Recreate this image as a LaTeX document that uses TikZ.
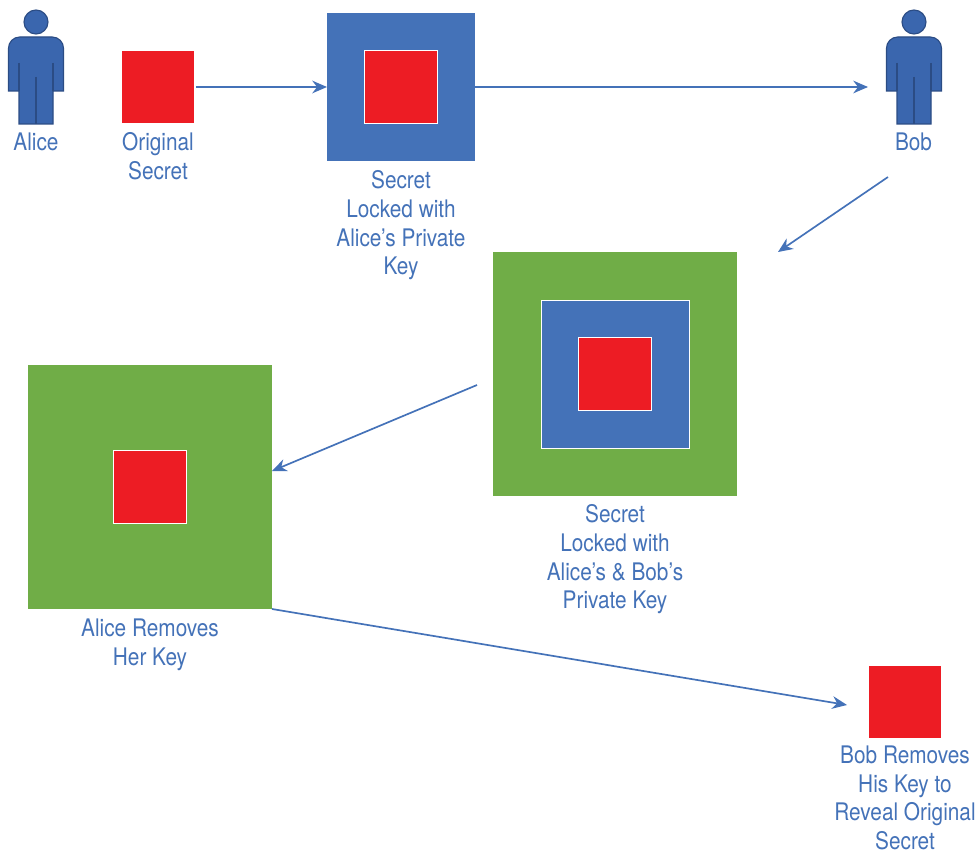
\documentclass[tikz,border=0pt]{standalone}
\usepackage{fontspec}
\setmainfont[FakeStretch=0.86]{TeX Gyre Heros}
\usetikzlibrary{arrows.meta}
\definecolor{keyblue}{HTML}{4472B8}
\definecolor{keygreen}{HTML}{70AD47}
\definecolor{keyred}{HTML}{ED1C24}
\definecolor{manfill}{HTML}{3A66AE}
\definecolor{manline}{HTML}{2B4C84}
\tikzset{
  box/.style={inner sep=0pt,outer sep=0pt,minimum size=#1*0.025cm},
  redbox/.style={box=72,fill=keyred},
  redin/.style={box=73,fill=keyred,draw=white,line width=0.6pt},
  bluebox/.style={box=148,fill=keyblue},
  bluein/.style={box=148,fill=keyblue,draw=white,line width=0.6pt},
  greenbox/.style={box=244,fill=keygreen},
  lbl/.style={text=keyblue,align=center,inner sep=0pt,font=\fontsize{17.2}{20.4}\selectfont},
  flow/.style={draw=keyblue,line width=1.2pt,-{Stealth[length=10.5pt,width=9pt]}},
  man/.pic={
    \draw[fill=manfill,draw=manline,line width=0.8pt] (0,-65) circle (12);
    \draw[fill=manfill,draw=manline,line width=0.8pt] (-27.5,4) [rounded corners=8pt] -- (-27.5,-50) -- (27.5,-50)
      [sharp corners] -- (27.5,4) -- (17,4) -- (17,37) -- (-17,37) -- (-17,4) -- cycle;
    \draw[manline,line width=0.8pt] (-17,-24) -- (-17,4);
    \draw[manline,line width=0.8pt] (17,-24) -- (17,4);
    \draw[manline,line width=0.8pt] (0,-10) -- (0,37);
  }
}
\begin{document}
\begin{tikzpicture}[x=0.025cm,y=-0.025cm]
\useasboundingbox (0,0) rectangle (977,853);

\pic at (36,87) {man};
\pic at (914,87) {man};
\node[lbl] (alice) at (36,142) {Alice};
\node[lbl] (bob) at (913.5,142) {Bob};

\node[redbox] (orig) at (158,87) {};
\node[lbl] (origtxt) at (158,156) {Original\\Secret};

\node[bluebox] (lockA) at (401,87) {};
\node[redin] (lockAred) at (401,87) {};
\node[lbl] (lockAtxt) at (401,225.5) {Secret\\Locked with\\Alice’s Private\\Key};

\node[greenbox] (lockAB) at (615,374) {};
\node[bluein] (lockABblue) at (615,374) {};
\node[redin] (lockABred) at (615,374) {};
\node[lbl] (lockABtxt) at (615,559.5) {Secret\\Locked with\\Alice’s \& Bob’s\\Private Key};

\node[greenbox] (lockB) at (150,487) {};
\node[redin] (lockBred) at (150,487) {};
\node[lbl] (lockBtxt) at (150,644.5) {Alice Removes\\Her Key};

\node[redbox] (final) at (905,702) {};
\node[lbl] (finaltxt) at (905,798) {Bob Removes\\His Key to\\Reveal Original\\Secret};

\coordinate (toBob) at (868,87);
\coordinate (fromBob) at (888,177);
\coordinate (toAB) at (778,252);
\coordinate (fromAB) at (477,385);
\coordinate (toB) at (272,471);
\coordinate (toFinal) at (847,705);

\draw[flow,shorten <=1.4pt] (orig.east) -- (lockA.west);
\draw[flow] (lockA.east) -- (toBob);
\draw[flow] (fromBob) -- (toAB);
\draw[flow] (fromAB) -- (toB);
\draw[flow] (lockB.south east) -- (toFinal);
\end{tikzpicture}
\end{document}
